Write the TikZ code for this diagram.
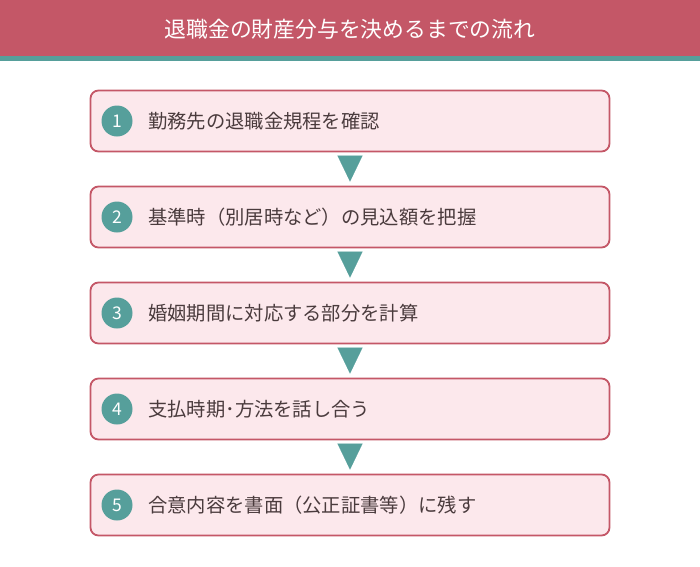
\documentclass[tikz,border=0pt]{standalone}
\usepackage{fontspec}
\setmainfont{Noto Sans CJK JP}
\usetikzlibrary{arrows.meta}
\definecolor{hdred}{HTML}{C45767}
\definecolor{tealg}{HTML}{569F9B}
\definecolor{boxpink}{HTML}{FCE8EC}
\definecolor{txtbrown}{HTML}{4A3B3D}

\begin{document}
\begin{tikzpicture}[x=1pt,y=-1pt,
  stepbox/.style={draw=hdred,line width=1.8pt,fill=boxpink,rounded corners=8pt,
    minimum width=519pt,minimum height=61pt},
  numdot/.style={circle,fill=tealg,text=white,minimum size=31pt,inner sep=0pt,
    font=\fontsize{17.5}{18}\selectfont},
  steptext/.style={anchor=west,text=txtbrown,inner sep=0pt,font=\fontsize{19.3}{21}\selectfont},
  flow/.style={draw=tealg,line width=0.1pt,-{Triangle[length=26pt,width=25pt,fill=tealg]},
    shorten <=4pt,shorten >=4pt}]
\useasboundingbox (0,0) rectangle (700,566);
\fill[hdred] (0,0) rectangle (700,56);
\fill[tealg] (0,56) rectangle (700,61);
\node[text=white,font=\fontsize{21.8}{24}\selectfont] (title) at (350,29) {退職金の財産分与を決めるまでの流れ};

\node[stepbox] (s1) at (350,121) {};
\node[numdot] (n1) at (117,121) {1};
\node[steptext] (t1) at (148,121) {勤務先の退職金規程を確認};

\node[stepbox] (s2) at (350,217) {};
\node[numdot] (n2) at (117,217) {2};
\node[steptext] (t2) at (148,217) {基準時（別居時など）の見込額を把握};

\node[stepbox] (s3) at (350,313) {};
\node[numdot] (n3) at (117,313) {3};
\node[steptext] (t3) at (148,313) {婚姻期間に対応する部分を計算};

\node[stepbox] (s4) at (350,409) {};
\node[numdot] (n4) at (117,409) {4};
\node[steptext] (t4) at (148,409) {支払時期･方法を話し合う};

\node[stepbox] (s5) at (350,505) {};
\node[numdot] (n5) at (117,505) {5};
\node[steptext] (t5) at (148,505) {合意内容を書面（公正証書等）に残す};

\draw[flow] (s1) -- (s2);
\draw[flow] (s2) -- (s3);
\draw[flow] (s3) -- (s4);
\draw[flow] (s4) -- (s5);
\end{tikzpicture}
\end{document}
